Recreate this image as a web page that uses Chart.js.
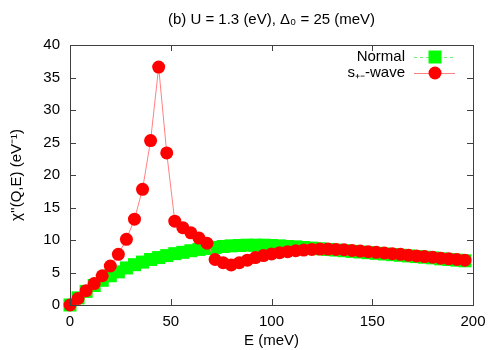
<!DOCTYPE html>
<html>
<head>
<meta charset="utf-8">
<script src="https://cdn.jsdelivr.net/npm/chart.js@4/dist/chart.umd.min.js"></script>
<style>
  body { margin: 0; background: #fff; }
  #wrap { width: 500px; height: 350px; }
</style>
</head>
<body>
<div id="wrap"><canvas id="c"></canvas></div>
<script>
var titleText = "(b) U = 1.3 (eV), \u0394\u2080 = 25 (meV)";
var xTicks = [0, 50, 100, 150, 200];
var yTicks = [0, 5, 10, 15, 20, 25, 30, 35, 40];

// energy grid (meV)
var energy = [0, 4, 8, 12, 16, 20, 24, 28, 32, 36, 40, 44, 48, 52, 56, 60, 64, 68, 72, 76,
    80, 84, 88, 92, 96, 100, 104, 108, 112, 116, 120, 124, 128, 132, 136, 140, 144, 148, 152, 156,
    160, 164, 168, 172, 176, 180, 184, 188, 192, 196];

var normal = [0, 1.1, 2.1, 3.0, 3.8, 4.5, 5.1, 5.7, 6.2, 6.6, 7.0, 7.3, 7.6, 7.9, 8.1, 8.35, 8.55, 8.7, 8.85, 9.0,
    9.1, 9.15, 9.2, 9.2, 9.2, 9.15, 9.1, 9.0, 8.95, 8.85, 8.75, 8.65, 8.55, 8.45, 8.35, 8.25, 8.15, 8.05, 7.95, 7.85,
    7.75, 7.65, 7.55, 7.45, 7.35, 7.25, 7.1, 7.0, 6.9, 6.8];

var spmWave = [0, 1.0, 2.2, 3.3, 4.5, 6.0, 7.8, 10.1, 13.2, 17.8, 25.3, 36.6, 23.4, 12.9, 11.9, 11.1, 10.3, 9.5, 7.0, 6.5,
    6.15, 6.5, 6.9, 7.3, 7.6, 7.85, 8.05, 8.2, 8.35, 8.45, 8.55, 8.6, 8.6, 8.55, 8.5, 8.4, 8.3, 8.2, 8.1, 8.0,
    7.9, 7.8, 7.65, 7.55, 7.45, 7.35, 7.2, 7.1, 7.0, 6.9];

var FONT = "'Liberation Sans', Arial, sans-serif";

function pts(ys) {
    return energy.map(function (e, i) { return {x: e, y: ys[i]}; });
}

// gnuplot style frame, inward mirrored ticks, title and legend
var gnuplotFrame = {
    id: 'gnuplotFrame',
    afterDraw: function (chart) {
        var ctx = chart.ctx;
        var a = chart.chartArea;
        var xs = chart.scales.x, ys = chart.scales.y;
        ctx.save();
        ctx.strokeStyle = '#404040';
        ctx.lineWidth = 1;
        ctx.beginPath();
        xTicks.forEach(function (t) {
            var px = Math.round(xs.getPixelForValue(t)) + 0.5;
            ctx.moveTo(px, a.bottom); ctx.lineTo(px, a.bottom - 6);
            ctx.moveTo(px, a.top); ctx.lineTo(px, a.top + 6);
        });
        yTicks.forEach(function (t) {
            var py = Math.round(ys.getPixelForValue(t)) + 0.5;
            ctx.moveTo(a.left, py); ctx.lineTo(a.left + 6, py);
            ctx.moveTo(a.right, py); ctx.lineTo(a.right - 6, py);
        });
        ctx.stroke();
        ctx.strokeRect(Math.round(a.left) + 0.5, Math.round(a.top) + 0.5,
            Math.round(a.right - a.left), Math.round(a.bottom - a.top));

        // title
        ctx.fillStyle = '#000';
        ctx.font = '15px ' + FONT;
        ctx.textAlign = 'center';
        ctx.textBaseline = 'middle';
        ctx.fillText(titleText, (a.left + a.right) / 2, 20);

        // legend
        var rows = [
            {label: 'Normal', color: '#00ff00', line: '#70f070', dash: [3, 3], shape: 'rect'},
            {label: 's\u208A\u208B-wave', color: '#ff0000', line: '#ff8080', dash: [], shape: 'circle'}
        ];
        rows.forEach(function (r, i) {
            var y = 57 + i * 16;
            ctx.fillStyle = '#000';
            ctx.font = '15px ' + FONT;
            ctx.textAlign = 'right';
            ctx.fillText(r.label, 405, y);
            ctx.strokeStyle = r.line;
            ctx.setLineDash(r.dash);
            ctx.beginPath();
            ctx.moveTo(414, y + 0.5); ctx.lineTo(455, y + 0.5);
            ctx.stroke();
            ctx.setLineDash([]);
            ctx.fillStyle = r.color;
            if (r.shape === 'rect') {
                ctx.fillRect(428.5, y - 6.5, 13, 13);
            } else {
                ctx.beginPath();
                ctx.arc(435, y, 6.5, 0, Math.PI * 2);
                ctx.fill();
            }
        });
        ctx.restore();
    }
};

var ctx = document.getElementById('c').getContext('2d');
var chart = new Chart(ctx, {
    type: 'line',
    data: {
        datasets: [{
            label: 's\u208A\u208B-wave',
            data: pts(spmWave),
            borderColor: '#ff8080',
            borderWidth: 1,
            backgroundColor: '#ff0000',
            pointBackgroundColor: '#ff0000',
            pointBorderWidth: 0,
            pointRadius: 6.5,
            pointStyle: 'circle',
            clip: false,
            order: 0
        }, {
            label: 'Normal',
            data: pts(normal),
            borderColor: '#70f070',
            borderDash: [3, 3],
            borderWidth: 1,
            backgroundColor: '#00ff00',
            pointBackgroundColor: '#00ff00',
            pointBorderWidth: 0,
            pointRadius: 9.2,
            pointStyle: 'rect',
            clip: false,
            order: 1
        }]
    },
    options: {
        responsive: true,
        maintainAspectRatio: false,
        animation: false,
        events: [],
        layout: {
            padding: {top: 45, right: 27, left: 0, bottom: 0}
        },
        plugins: {
            legend: {display: false},
            title: {display: false},
            tooltip: {enabled: false}
        },
        scales: {
            x: {
                type: 'linear',
                min: 0,
                max: 200,
                afterFit: function (s) { s.height = 45; },
                afterBuildTicks: function (s) { s.ticks = xTicks.map(function (v) { return {value: v}; }); },
                grid: {display: false, drawTicks: false},
                border: {display: false},
                ticks: {color: '#000', padding: 8, font: {family: FONT, size: 15}, maxRotation: 0},
                title: {display: true, text: 'E (meV)', color: '#000', padding: 0, font: {family: FONT, size: 15}}
            },
            y: {
                type: 'linear',
                min: 0,
                max: 40,
                afterFit: function (s) { s.width = 70; },
                afterBuildTicks: function (s) { s.ticks = yTicks.map(function (v) { return {value: v}; }); },
                grid: {display: false, drawTicks: false},
                border: {display: false},
                ticks: {color: '#000', padding: 10, font: {family: FONT, size: 15}},
                title: {display: true, text: "\u03C7''(Q,E) (eV\u207B\u00B9)", color: '#000', padding: {top: 8, bottom: 0}, font: {family: FONT, size: 15}}
            }
        }
    },
    plugins: [gnuplotFrame]
});
</script>
</body>
</html>
